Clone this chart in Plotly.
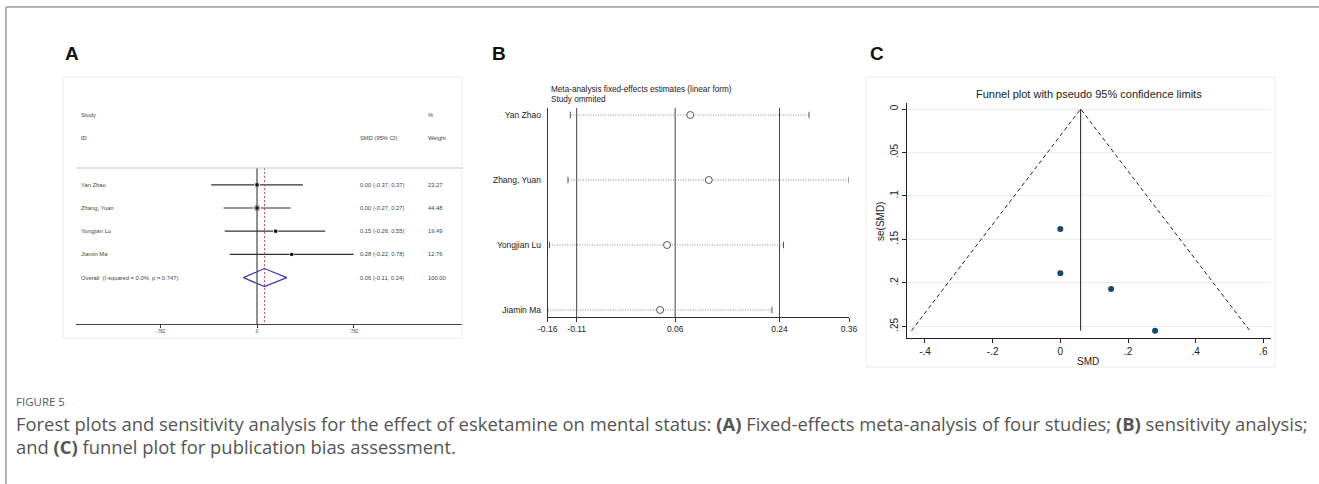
import plotly.graph_objects as go

# ---- data -------------------------------------------------------------
studies = ["Yan Zhao", "Zhang, Yuan", "Yongjian Lu", "Jiamin Ma"]
smd = [0.00, 0.00, 0.15, 0.28]
ci_lo = [-0.37, -0.27, -0.26, -0.22]
ci_hi = [0.37, 0.27, 0.55, 0.78]
weights = [23.27, 44.48, 19.49, 12.76]
se_smd = [0.189, 0.138, 0.207, 0.255]

overall_est = 0.06
overall_lo = -0.11
overall_hi = 0.24
overall_label = "Overall  (I-squared = 0.0%, p = 0.747)"

# leave-one-out (study omitted) estimates
loo_est = [0.086, 0.118, 0.046, 0.034]
loo_lo = [-0.121, -0.125, -0.157, -0.160]
loo_hi = [0.291, 0.360, 0.247, 0.227]

forest_ticks = [-0.782, 0, 0.782]
forest_ticktext = ["-.782", "0", ".782"]
sens_ticks = [-0.16, -0.11, 0.06, 0.24, 0.36]
funnel_xticks = [-0.4, -0.2, 0, 0.2, 0.4, 0.6]
funnel_xtext = ["-.4", "-.2", "0", ".2", ".4", ".6"]
funnel_yticks = [0, 0.05, 0.1, 0.15, 0.2, 0.25]
funnel_ytext = ["0", ".05", ".1", ".15", ".2", ".25"]

W, H = 1319, 484


def px(x):
    return x / W


def py(y):
    return 1 - y / H


STATA = "Liberation Sans, Arial, sans-serif"
fig = go.Figure()
shapes = []
ann = []


def label(x, y, text, font, xanchor="left", yref="paper", **kw):
    ann.append(dict(x=px(x), y=py(y) if yref == "paper" else y, xref="paper", yref=yref,
                    text=text, showarrow=False, xanchor=xanchor, yanchor="middle",
                    font=font, **kw))


# ---- panel A: forest plot --------------------------------------------
rows = list(range(1, len(studies) + 1))
ov_row = len(studies) + 1

xs, ys = [], []
for r, lo, hi in zip(rows, ci_lo, ci_hi):
    xs += [lo, hi, None]
    ys += [r, r, None]
fig.add_trace(go.Scatter(x=xs, y=ys, mode="lines", line=dict(color="#333333", width=1.2),
                         xaxis="x", yaxis="y", hoverinfo="skip"))
fig.add_trace(go.Scatter(x=smd, y=rows, mode="markers",
                         marker=dict(symbol="square", color="#a0a0a0",
                                     size=[w ** 0.5 for w in weights]),
                         xaxis="x", yaxis="y"))
fig.add_trace(go.Scatter(x=smd, y=rows, mode="markers",
                         marker=dict(symbol="square", color="#111111", size=3),
                         xaxis="x", yaxis="y"))
# null line and pooled-estimate line
fig.add_trace(go.Scatter(x=[0, 0], y=[0.28, 7], mode="lines",
                         line=dict(color="#222222", width=1), xaxis="x", yaxis="y"))
fig.add_trace(go.Scatter(x=[overall_est, overall_est], y=[0.28, 7], mode="lines",
                         line=dict(color="#d04848", width=1, dash="2px,2px"),
                         xaxis="x", yaxis="y"))
# pooled diamond
fig.add_trace(go.Scatter(x=[overall_lo, overall_est, overall_hi, overall_est, overall_lo],
                         y=[ov_row, ov_row - 0.39, ov_row, ov_row + 0.39, ov_row],
                         mode="lines", line=dict(color="#3a3a9e", width=1.2),
                         xaxis="x", yaxis="y"))

tA = dict(family=STATA, size=5.8, color="#444444")
label(79, -2, "Study", tA, yref="y")
label(426, -2, "%", tA, yref="y")
label(79, -1, "ID", tA, yref="y")
label(358, -1, "SMD (95% CI)", tA, yref="y")
label(426, -1, "Weight", tA, yref="y")
for r, name, e, lo, hi, w in zip(rows, studies, smd, ci_lo, ci_hi, weights):
    label(79, r, name, tA, yref="y")
    label(358, r, f"{e:.2f} ({lo:.2f}, {hi:.2f})", tA, yref="y")
    label(426, r, f"{w:.2f}", tA, yref="y")
label(79, ov_row, overall_label, tA, yref="y")
label(358, ov_row, f"{overall_est:.2f} ({overall_lo:.2f}, {overall_hi:.2f})", tA, yref="y")
label(426, ov_row, f"{sum(weights):.2f}", tA, yref="y")

# header separator and panel frame
shapes.append(dict(type="line", xref="paper", yref="paper", x0=px(76), x1=px(463),
                   y0=py(168), y1=py(168), line=dict(color="#c8c8c8", width=1)))
shapes.append(dict(type="rect", xref="paper", yref="paper", x0=px(63), x1=px(462),
                   y0=py(338), y1=py(77), line=dict(color="#e6eeee", width=1)))

# ---- panel B: sensitivity analysis ----------------------------------
cap = 0.05
xs, ys = [], []
cx, cy = [], []
for r, lo, hi in zip(rows, loo_lo, loo_hi):
    xs += [lo, hi, None]
    ys += [r, r, None]
    cx += [lo, lo, None, hi, hi, None]
    cy += [r - cap, r + cap, None, r - cap, r + cap, None]
for v in sens_ticks[1:4]:
    fig.add_trace(go.Scatter(x=[v, v], y=[0.892, 4.108], mode="lines",
                             line=dict(color="#444444", width=1), xaxis="x2", yaxis="y2"))
fig.add_trace(go.Scatter(x=xs, y=ys, mode="lines",
                         line=dict(color="#8a8a8a", width=1, dash="1px,1.5px"),
                         xaxis="x2", yaxis="y2"))
fig.add_trace(go.Scatter(x=cx, y=cy, mode="lines", line=dict(color="#555555", width=1),
                         xaxis="x2", yaxis="y2"))
fig.add_trace(go.Scatter(x=loo_est, y=rows, mode="markers",
                         marker=dict(symbol="circle", size=7, color="white",
                                     line=dict(color="#555555", width=1)),
                         xaxis="x2", yaxis="y2"))
tB = dict(family=STATA, size=8.2, color="#222222")
label(549, 89, "Meta-analysis fixed-effects estimates (linear form)", tB)
label(549, 100, "Study ommited", tB)

# ---- panel C: funnel plot --------------------------------------------
se_max = max(se_smd)
fig.add_trace(go.Scatter(x=[overall_est - 1.96 * se_max, overall_est, overall_est + 1.96 * se_max],
                         y=[se_max, 0, se_max], mode="lines",
                         line=dict(color="#222222", width=1, dash="4px,3px"),
                         xaxis="x3", yaxis="y3"))
fig.add_trace(go.Scatter(x=[overall_est, overall_est], y=[0, se_max], mode="lines",
                         line=dict(color="#222222", width=1), xaxis="x3", yaxis="y3"))
fig.add_trace(go.Scatter(x=smd, y=se_smd, mode="markers",
                         marker=dict(color="#1a476f", size=6), xaxis="x3", yaxis="y3"))
tC = dict(family=STATA, size=10, color="#222222")
label(1088.5, 94, "Funnel plot with pseudo 95% confidence limits",
      dict(family=STATA, size=11, color="#222222"), xanchor="center")
label(1088, 361, "SMD", tC, xanchor="center")
label(880, 222, "se(SMD)", tC, xanchor="center", textangle=-90)
shapes.append(dict(type="rect", xref="paper", yref="paper", x0=px(866), x1=px(1275),
                   y0=py(367), y1=py(77), line=dict(color="#e6eeee", width=1)))

# ---- panel letters, page frame and caption ---------------------------
for letter, x in (("A", 63), ("B", 490), ("C", 868)):
    label(x, 54, f"<b>{letter}</b>", dict(family=STATA, size=19, color="#111111"))

shapes.append(dict(type="line", xref="paper", yref="paper", x0=px(6), x1=1,
                   y0=py(7), y1=py(7), line=dict(color="#b4b4b4", width=2)))
shapes.append(dict(type="line", xref="paper", yref="paper", x0=px(6), x1=px(6),
                   y0=py(7), y1=0, line=dict(color="#b4b4b4", width=2)))

CAP = "Open Sans, Noto Sans, sans-serif"
label(14, 401, "FIGURE 5", dict(family=CAP, size=11.5, color="#5a5a5a"))
label(14, 423, "Forest plots and sensitivity analysis for the effect of esketamine on mental status: "
               "<b>(A)</b> Fixed-effects meta-analysis of four studies; <b>(B)</b> sensitivity analysis;",
      dict(family=CAP, size=18.4, color="#555555"))
label(14, 446, "and <b>(C)</b> funnel plot for publication bias assessment.",
      dict(family=CAP, size=18.4, color="#555555"))

# ---- layout ----------------------------------------------------------
fig.update_layout(
    width=W, height=H, margin=dict(l=0, r=0, t=0, b=0, autoexpand=False),
    paper_bgcolor="white", plot_bgcolor="white", showlegend=False,
    shapes=shapes, annotations=ann,
    xaxis=dict(domain=[px(76), px(463)], range=[-1.4597, 1.661], anchor="y",
               tickvals=forest_ticks, ticktext=forest_ticktext, ticks="outside", ticklen=3,
               tickcolor="#333333", showline=True, linecolor="#444444", linewidth=1,
               showgrid=False, zeroline=False,
               tickfont=dict(family=STATA, size=4.5, color="#444444")),
    yaxis=dict(domain=[py(324), py(92)], range=[7, -3], visible=False, anchor="x"),
    xaxis2=dict(domain=[px(547.7), px(849)], range=[-0.16, 0.36], anchor="y2",
                tickvals=sens_ticks, ticktext=[f"{v:.2f}" for v in sens_ticks],
                ticks="outside", ticklen=4, tickcolor="#333333", showline=True,
                linecolor="#333333", linewidth=1, showgrid=False, zeroline=False,
                tickfont=dict(family=STATA, size=8.5, color="#222222")),
    yaxis2=dict(domain=[py(317), py(108)], range=[4.108, 0.892], anchor="x2",
                tickvals=rows, ticktext=studies, ticks="", showline=True,
                linecolor="#333333", linewidth=1, showgrid=False, zeroline=False,
                ticklabelstandoff=4,
                tickfont=dict(family=STATA, size=8.5, color="#222222")),
    xaxis3=dict(domain=[px(906.7), px(1271)], range=[-0.454, 0.6225], anchor="y3",
                tickvals=funnel_xticks, ticktext=funnel_xtext, ticks="outside", ticklen=4,
                tickcolor="#222222", showline=True, linecolor="#222222", linewidth=1,
                showgrid=False, zeroline=False, tickfont=tC),
    yaxis3=dict(domain=[py(337.7), py(103)], range=[0.2631, -0.0069], anchor="x3",
                tickvals=funnel_yticks, ticktext=funnel_ytext, tickangle=-90,
                ticks="outside", ticklen=4, tickcolor="#222222", showline=True,
                linecolor="#222222", linewidth=1, showgrid=True, gridcolor="#e6eeee",
                zeroline=False, tickfont=tC),
)

fig.write_html("out.html")
